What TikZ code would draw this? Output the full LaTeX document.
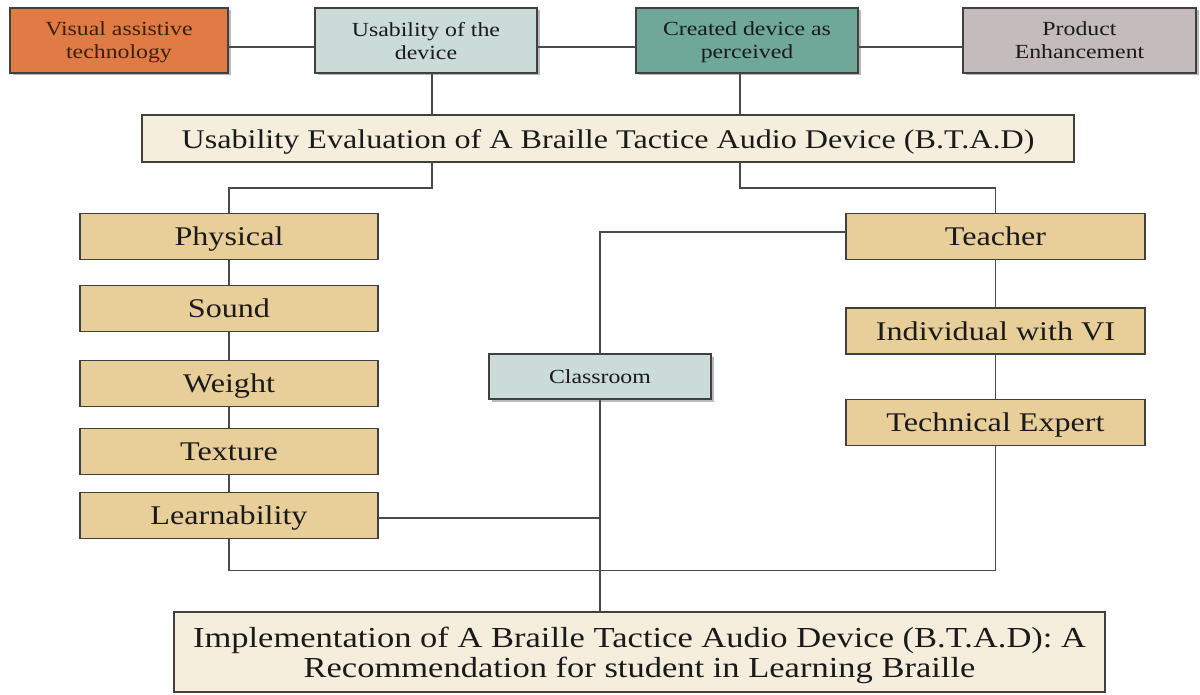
\documentclass[tikz,border=0pt]{standalone}
\usepackage{fontspec}
\setmainfont{Liberation Serif}[FakeStretch=1.19]
\usetikzlibrary{shadows}
\definecolor{cOrange}{HTML}{E07B45}
\definecolor{cBlueGray}{HTML}{CADBD8}
\definecolor{cTeal}{HTML}{6FA899}
\definecolor{cMauve}{HTML}{C4BCBC}
\definecolor{cCream}{HTML}{F5EEDD}
\definecolor{cTan}{HTML}{E8CF9A}
\definecolor{cBorder}{HTML}{404040}
\definecolor{cLine}{HTML}{4A4A4A}
\definecolor{cText}{HTML}{1A1A1A}
\definecolor{cBrown}{HTML}{3B2010}
\tikzset{
  box/.style={draw=cBorder, line width=1.3pt, inner sep=0pt, outer sep=0pt, align=center, text=cText, text depth=0pt},
  shad/.style={drop shadow={shadow xshift=2.5pt, shadow yshift=-2.5pt, fill=black!45, opacity=0.6}},
  toprow/.style={box, shad, minimum width=#1, minimum height=65pt, font=\fontsize{20}{23}\selectfont},
  item/.style={box, fill=cTan, minimum height=46pt, font=\fontsize{27}{30}\selectfont},
  conn/.style={draw=cLine, line width=1.2pt}
}
\begin{document}
\begin{tikzpicture}[x=1pt, y=-1pt]
\useasboundingbox (0,0) rectangle (1200,695);
% top row
\node[toprow=218pt, fill=cOrange, text=cBrown] (vat) at (119,40.5) {Visual assistive\\technology};
\node[toprow=222pt, fill=cBlueGray] (usab) at (426,40.5) {Usability of the\\device};
\node[toprow=222pt, fill=cTeal] (created) at (747,40.5) {Created device as\\perceived};
\node[toprow=233pt, fill=cMauve] (prod) at (1079.5,40.5) {Product\\Enhancement};
% evaluation
\node[box, fill=cCream, minimum width=932pt, minimum height=47pt, font=\fontsize{27}{30}\selectfont] (eval) at (608,138.5) {Usability Evaluation of A Braille Tactice Audio Device (B.T.A.D)};
% left column
\node[item, minimum width=298pt] (phys) at (229,236.5) {Physical};
\node[item, minimum width=298pt] (sound) at (229,308.5) {Sound};
\node[item, minimum width=298pt] (weight) at (229,383.5) {Weight};
\node[item, minimum width=298pt] (texture) at (229,451.5) {Texture};
\node[item, minimum width=298pt] (learn) at (229,515.5) {Learnability};
% right column
\node[item, minimum width=299pt] (teach) at (995.5,236.5) {Teacher};
\node[item, minimum width=299pt] (indiv) at (995.5,331) {Individual with VI};
\node[item, minimum width=299pt] (tech) at (995.5,422.5) {Technical Expert};
% classroom
\node[box, shad, fill=cBlueGray, minimum width=222pt, minimum height=45pt, font=\fontsize{20}{23}\selectfont] (class) at (600,376.5) {Classroom};
% bottom
\node[box, fill=cCream, minimum width=931pt, minimum height=80pt, font=\fontsize{29}{30}\selectfont] (impl) at (639.5,652) {Implementation of A Braille Tactice Audio Device (B.T.A.D): A\\Recommendation for student in Learning Braille};
% connectors top row
\draw[conn] ([yshift=-6.5pt]vat.east) -- ([yshift=-6.5pt]vat.east -| usab.west);
\draw[conn] ([yshift=-6.5pt]usab.east) -- ([yshift=-6.5pt]usab.east -| created.west);
\draw[conn] ([yshift=-6.5pt]created.east) -- ([yshift=-6.5pt]created.east -| prod.west);
\coordinate (ul) at ([xshift=6pt]usab.south);
\coordinate (cl) at ([xshift=-7pt]created.south);
\draw[conn] (ul) -- (ul |- eval.north);
\draw[conn] (cl) -- (cl |- eval.north);
% branches from evaluation
\draw[conn] (eval.south -| ul) -- ++(0,26) -| (phys.north);
\draw[conn] (eval.south -| cl) -- ++(0,26) -| (teach.north);
% left chain
\draw[conn] (phys.south) -- (sound.north);
\draw[conn] (sound.south) -- (weight.north);
\draw[conn] (weight.south) -- (texture.north);
\draw[conn] (texture.south) -- (learn.north);
% right chain
\draw[conn] (teach.south) -- (indiv.north);
\draw[conn] (indiv.south) -- (tech.north);
% bottom loop
\draw[conn] (learn.south) -- ++(0,32) -| (tech.south);
% classroom links
\draw[conn] ([yshift=4.5pt]teach.west) -| (class.north);
\draw[conn] ([yshift=-2.5pt]learn.east) -- ([yshift=-2.5pt]learn.east -| class.south);
\draw[conn] (class.south) -- (class.south |- impl.north);
\end{tikzpicture}
\end{document}
